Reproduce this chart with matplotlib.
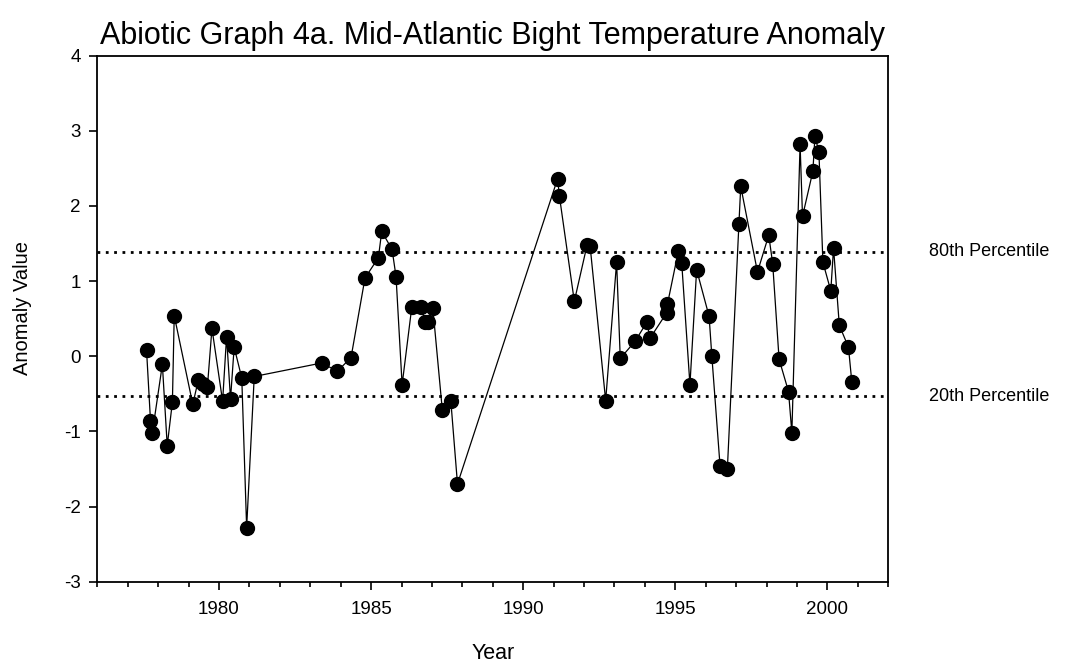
import matplotlib
matplotlib.use("Agg")
import matplotlib.pyplot as plt
import matplotlib.transforms as mtransforms

plt.rcParams['font.family'] = ['Liberation Sans', 'DejaVu Sans']
plt.rcParams['axes.unicode_minus'] = False

# Survey time (decimal year) and temperature anomaly
years = [1977.62, 1977.75, 1977.81, 1978.14, 1978.30, 1978.47, 1978.53,
         1979.14, 1979.32, 1979.48, 1979.62, 1979.77, 1980.12, 1980.25,
         1980.38, 1980.50, 1980.75, 1980.91, 1981.16,
         1983.38, 1983.89, 1984.34, 1984.80, 1985.24, 1985.35, 1985.69,
         1985.82, 1986.02, 1986.34, 1986.63, 1986.78, 1986.88, 1987.03,
         1987.34, 1987.62, 1987.84,
         1991.13, 1991.19, 1991.68, 1992.10, 1992.20, 1992.71, 1993.07,
         1993.19, 1993.68, 1994.06, 1994.17, 1994.72, 1994.74, 1995.10,
         1995.21, 1995.48, 1995.70, 1996.11, 1996.20, 1996.47, 1996.71,
         1997.09, 1997.15, 1997.70, 1998.07, 1998.20, 1998.41, 1998.72,
         1998.83, 1999.10, 1999.18, 1999.52, 1999.59, 1999.72, 1999.85,
         2000.11, 2000.20, 2000.39, 2000.69, 2000.80]
anomaly = [0.08, -0.86, -1.02, -0.11, -1.19, -0.61, 0.54,
           -0.64, -0.32, -0.37, -0.41, 0.37, -0.60, 0.26,
           -0.57, 0.12, -0.29, -2.28, -0.27,
           -0.09, -0.20, -0.02, 1.04, 1.31, 1.66, 1.42,
           1.06, -0.38, 0.66, 0.66, 0.46, 0.45, 0.64,
           -0.71, -0.59, -1.70,
           2.36, 2.13, 0.73, 1.48, 1.46, -0.59, 1.25,
           -0.03, 0.20, 0.45, 0.24, 0.58, 0.69, 1.40,
           1.24, -0.38, 1.15, 0.53, 0.00, -1.46, -1.50,
           1.76, 2.26, 1.12, 1.61, 1.23, -0.04, -0.47,
           -1.02, 2.82, 1.86, 2.46, 2.93, 2.71, 1.25,
           0.87, 1.44, 0.41, 0.12, -0.34]

pct_values = [1.39, -0.53]
pct_labels = ["80th Percentile", "20th Percentile"]

x_ticks = [1980, 1985, 1990, 1995, 2000]
y_ticks = [-3, -2, -1, 0, 1, 2, 3, 4]

fig = plt.figure(figsize=(10.77, 6.69), dpi=100)
ax = fig.add_axes([0.0903, 0.1305, 0.7345, 0.7865])

ax.plot(years, anomaly, color='black', linewidth=0.9,
        marker='o', markersize=10, markerfacecolor='black',
        markeredgecolor='black', zorder=3)

trans = mtransforms.blended_transform_factory(ax.transAxes, ax.transData)
for val, lab in zip(pct_values, pct_labels):
    ax.axhline(val, color='black', linewidth=2.0, linestyle=(0, (1.0, 2.0)),
               zorder=2)
    ax.text(1.052, val, lab, transform=trans, ha='left', va='center',
            fontsize=13, color='black')

ax.set_xlim(1976, 2002)
ax.set_ylim(-3, 4)
ax.set_xticks(x_ticks)
ax.set_xticks(range(1976, 2003), minor=True)
ax.set_yticks(y_ticks)
ax.tick_params(axis='both', which='major', direction='out', length=6,
               width=1.2, labelsize=13.5, pad=6)
ax.tick_params(axis='x', which='minor', direction='out', length=3.5,
               width=1.2)
ax.tick_params(axis='x', which='major', pad=8)
for sp in ax.spines.values():
    sp.set_linewidth(1.3)

ax.set_xlabel("Year", fontsize=15.5, labelpad=18)
ax.set_ylabel("Anomaly Value", fontsize=14.5)
ax.yaxis.set_label_coords(-0.082, 0.52)
ax.set_title("Abiotic Graph 4a. Mid-Atlantic Bight Temperature Anomaly",
             fontsize=22, pad=8)

fig.savefig("out.png", dpi=100)
